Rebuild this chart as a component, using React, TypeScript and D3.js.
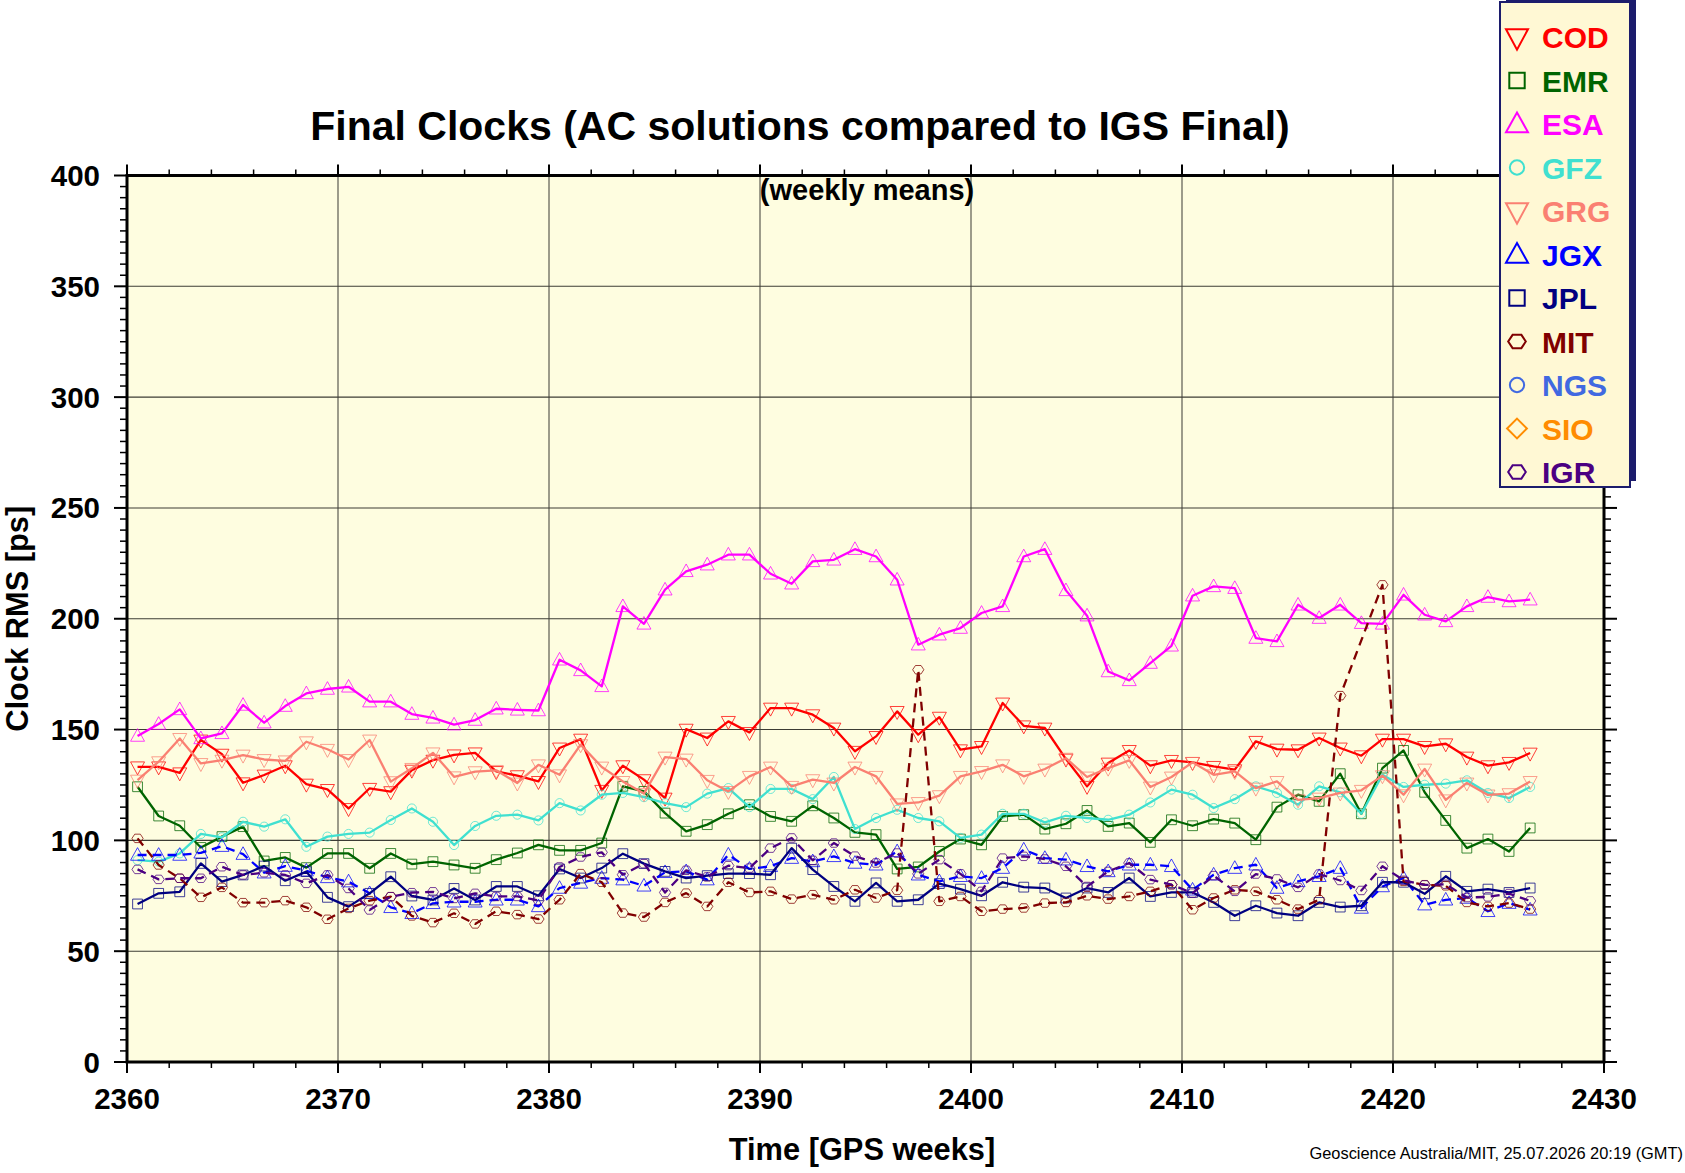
import React, { useEffect } from "react";
import * as d3 from "d3";

// ---------- DATA ----------
const weeks: number[] = d3.range(2360.5, 2427, 1);

const COD = [133.2, 133.2, 130.5, 145.3, 138.9, 126.0, 129.5, 133.7, 125.4, 123.0, 114.4, 123.5, 122.0, 131.7, 136.2, 138.6, 139.5,
  131.1, 129.2, 126.6, 141.7, 145.7, 122.6, 133.7, 127.4, 119.1, 150.2, 146.2, 153.7, 148.7, 159.7, 159.7, 156.7, 150.7, 140.2,
  146.9, 158.2, 147.7, 155.6, 140.9, 142.4, 162.0, 151.7, 150.7, 136.7, 124.4, 134.9, 140.6, 133.7, 136.1, 135.2, 133.4, 131.9,
  144.7, 141.2, 140.9, 146.2, 141.7, 138.2, 145.7, 145.7, 142.4, 143.6, 137.6, 133.7, 135.2, 139.4];
const EMR = [124.2, 111.0, 106.6, 96.8, 101.7, 106.2, 90.7, 92.3, 87.7, 94.1, 94.1, 87.4, 94.1, 89.3, 90.4, 88.9, 87.4,
  91.3, 94.3, 98.0, 95.5, 95.5, 98.8, 124.4, 122.1, 112.3, 104.1, 107.1, 112.0, 116.1, 110.8, 108.6, 115.6, 110.1, 103.6,
  102.6, 87.1, 88.0, 95.0, 100.6, 98.0, 110.8, 111.6, 105.1, 107.5, 113.5, 106.3, 107.8, 99.1, 109.3, 106.6, 109.6, 107.8,
  100.3, 115.0, 120.6, 117.6, 130.1, 112.0, 132.6, 140.6, 121.7, 109.0, 96.5, 100.6, 95.0, 105.6];
const ESA = [147.1, 152.5, 159.1, 146.0, 148.3, 161.1, 153.1, 160.6, 166.3, 168.3, 169.3, 162.6, 162.6, 157.0, 155.3, 152.2, 154.3,
  159.4, 158.9, 158.6, 181.5, 176.7, 169.5, 205.6, 197.7, 213.1, 221.4, 224.4, 228.9, 228.9, 220.3, 215.8, 225.9, 226.6, 231.4,
  228.1, 217.6, 188.3, 192.8, 195.8, 202.6, 205.6, 228.1, 231.4, 212.8, 201.4, 176.2, 172.2, 180.0, 187.8, 210.4, 214.6, 213.8,
  191.3, 189.8, 206.3, 200.3, 206.3, 198.0, 197.7, 210.8, 201.8, 198.8, 205.6, 209.8, 207.8, 208.6];
const GFZ = [91.1, 90.4, 94.1, 102.9, 101.4, 108.4, 106.2, 109.5, 97.1, 101.7, 102.9, 103.5, 109.2, 114.4, 108.4, 97.9, 106.5,
  111.1, 111.6, 109.0, 116.8, 113.5, 120.6, 121.4, 119.5, 116.8, 115.0, 121.1, 123.6, 115.0, 123.2, 123.2, 118.6, 128.6, 105.1,
  110.1, 113.8, 110.1, 108.6, 101.1, 102.6, 112.0, 112.0, 108.1, 111.1, 110.1, 109.3, 111.6, 117.1, 122.9, 120.6, 114.6, 118.6,
  124.4, 121.4, 116.1, 124.4, 121.7, 112.0, 129.6, 124.1, 125.1, 125.6, 127.1, 121.4, 119.1, 124.1];
const GRG = [127.2, 135.5, 146.0, 134.7, 136.2, 138.5, 136.5, 135.9, 144.5, 141.1, 136.5, 145.3, 126.5, 132.5, 139.5, 128.7, 131.0,
  131.6, 125.9, 134.1, 129.6, 143.2, 133.1, 126.6, 121.1, 137.6, 136.7, 127.1, 122.1, 128.9, 133.1, 124.4, 127.4, 125.9, 133.1,
  128.9, 116.5, 117.1, 120.2, 128.9, 131.1, 134.1, 128.9, 132.2, 137.1, 128.6, 132.6, 136.1, 124.1, 128.6, 135.2, 129.6, 131.1,
  123.6, 126.6, 118.3, 119.1, 121.4, 122.6, 129.2, 120.6, 132.2, 118.3, 125.9, 120.5, 121.1, 126.6];
const JGX = [93.4, 93.4, 93.4, 94.4, 97.4, 93.8, 85.4, 88.4, 86.3, 83.3, 81.4, 76.1, 69.8, 67.1, 71.6, 72.3, 72.3,
  73.2, 73.2, 70.2, 78.5, 80.8, 83.0, 82.3, 79.5, 85.6, 86.0, 82.3, 93.5, 87.1, 88.3, 92.0, 90.5, 92.8, 89.8,
  89.0, 95.0, 84.5, 81.5, 83.8, 83.0, 87.5, 95.8, 92.0, 91.3, 88.3, 86.0, 89.0, 89.0, 88.3, 77.7, 84.5, 87.5,
  89.0, 78.5, 81.5, 83.8, 87.5, 69.5, 79.2, 83.0, 71.0, 73.2, 74.0, 68.0, 71.7, 68.7];
const JPL = [71.3, 76.1, 76.8, 89.6, 81.4, 84.4, 88.4, 81.8, 85.9, 74.3, 70.1, 76.1, 83.6, 74.9, 73.1, 78.3, 73.1,
  79.2, 79.2, 75.0, 87.1, 83.0, 87.5, 94.0, 89.5, 86.0, 83.0, 84.1, 85.0, 85.0, 84.5, 96.5, 86.8, 79.2, 72.5,
  80.8, 72.5, 73.2, 80.5, 78.0, 75.0, 81.1, 78.9, 78.5, 74.0, 78.5, 76.5, 83.0, 74.7, 76.5, 76.5, 72.0, 66.0,
  70.5, 67.2, 66.0, 72.0, 69.9, 70.5, 81.1, 81.1, 75.9, 83.8, 77.0, 78.0, 76.5, 78.5];
const MIT: (number | null)[] = [100.9, 88.9, 82.9, 74.3, 78.8, 71.9, 71.9, 72.8, 69.8, 64.4, 69.3, 72.8, 74.6, 65.9, 62.9, 67.1, 62.3,
  68.0, 66.5, 64.5, 73.2, 85.0, 81.1, 67.2, 65.4, 72.0, 76.2, 70.2, 81.1, 76.5, 77.0, 73.5, 75.5, 73.2, 77.7,
  74.0, 77.5, 177.0, 72.5, 74.7, 68.0, 69.0, 69.5, 71.7, 72.0, 75.0, 73.5, 74.7, 77.0, 80.0, 68.7, 74.0, 77.7,
  77.0, 73.2, 69.0, 73.2, 165.3, null, 215.3, 81.5, 80.0, 79.5, 72.0, 70.2, 71.7, 69.0];
const NGS: (number | null)[] = [];
const SIO: (number | null)[] = [];
const IGR = [86.9, 82.4, 82.9, 82.9, 88.1, 84.4, 85.4, 84.4, 80.6, 84.4, 78.3, 68.6, 74.6, 76.4, 76.8, 73.8, 76.1,
  74.7, 74.7, 72.9, 88.0, 92.5, 94.6, 84.5, 89.5, 76.5, 86.5, 83.5, 88.6, 87.5, 96.5, 101.1, 91.0, 98.8, 92.9,
  89.8, 94.3, 84.9, 91.3, 84.9, 77.0, 92.0, 92.8, 91.6, 88.3, 79.2, 86.0, 89.8, 82.3, 80.0, 76.2, 84.1, 77.0,
  84.8, 82.6, 78.8, 84.8, 81.9, 77.4, 88.3, 82.0, 79.9, 80.2, 74.2, 74.5, 76.0, 72.7];

const seriesNames = ["COD", "EMR", "ESA", "GFZ", "GRG", "JGX", "JPL", "MIT", "NGS", "SIO", "IGR"];
const seriesValues: (number | null)[][] = [COD, EMR, ESA, GFZ, GRG, JGX, JPL, MIT, NGS, SIO, IGR];
const seriesColors = ["#ff0000", "#006400", "#ff00ff", "#40e0d0", "#fa8072", "#0000ff", "#000080", "#800000", "#4169e1", "#ff8c00", "#4b0082"];
const seriesMarkers = ["tdown", "square", "tup", "circle", "tdown", "tup", "square", "hex", "circle", "diamond", "hex"];
const seriesDashed = [false, false, false, false, false, true, false, true, false, false, true];

const xTicks = [2360, 2370, 2380, 2390, 2400, 2410, 2420, 2430];
const yTicks = [0, 50, 100, 150, 200, 250, 300, 350, 400];

const TITLE = "Final Clocks (AC solutions compared to IGS Final)";
const SUBTITLE = "(weekly means)";
const XLABEL = "Time [GPS weeks]";
const YLABEL = "Clock RMS [ps]";
const FOOTER = "Geoscience Australia/MIT, 25.07.2026 20:19 (GMT)";

// ---------- LAYOUT ----------
const W = 1685, H = 1173;
const L = 127, R = 1604, T = 175.5, B = 1062;
const FONT = "'Liberation Sans', Arial, Helvetica, sans-serif";

function markerPath(kind: string, s: number): string {
  switch (kind) {
    case "tdown": return `M${-s},${-0.7 * s}L${s},${-0.7 * s}L0,${1.15 * s}Z`;
    case "tup": return `M${-s},${0.75 * s}L${s},${0.75 * s}L0,${-1.05 * s}Z`;
    case "square": { const h = s * 0.7; return `M${-h},${-h}L${h},${-h}L${h},${h}L${-h},${h}Z`; }
    case "circle": { const r = s * 0.65; return `M${r},0A${r},${r} 0 1,1 ${-r},0A${r},${r} 0 1,1 ${r},0Z`; }
    case "diamond": { const r = s * 0.9; return `M0,${-r}L${r},0L0,${r}L${-r},0Z`; }
    case "hex": {
      const r = s * 0.8;
      const pts = d3.range(6).map((i) => {
        const a = (Math.PI / 3) * i;
        return [r * Math.cos(a), r * 0.87 * Math.sin(a)];
      });
      return "M" + pts.map((p) => p.join(",")).join("L") + "Z";
    }
  }
  return "";
}

export default function App() {
  useEffect(() => {
    document.body.style.margin = "0";
  }, []);

  const x = d3.scaleLinear().domain([2360, 2430]).range([L, R]);
  const y = d3.scaleLinear().domain([0, 400]).range([B, T]);

  const xMinor = d3.range(2360, 2431, 2);
  const yMinor = d3.range(0, 401, 5);

  const line = d3.line<[number, number]>().x((d) => x(d[0])).y((d) => y(d[1]));

  return (
    <svg width={W} height={H} style={{ position: "absolute", left: 0, top: 0, display: "block", background: "#fff" }} fontFamily={FONT}>
      <rect x={0} y={0} width={W} height={H} fill="#ffffff" />
      {/* plot background */}
      <rect x={L} y={T} width={R - L} height={B - T} fill="#fefde0" />
      {/* grid */}
      {xTicks.filter((t) => t > 2360 && t < 2430).map((t) => (
        <line key={"gx" + t} x1={x(t)} x2={x(t)} y1={T} y2={B} stroke="#5a5a50" strokeWidth={1.2} />
      ))}
      {yTicks.filter((t) => t > 0 && t < 400).map((t) => (
        <line key={"gy" + t} x1={L} x2={R} y1={y(t)} y2={y(t)} stroke="#3c3c34" strokeWidth={1.1} />
      ))}
      {/* series */}
      {seriesNames.map((name, i) => {
        const vals = seriesValues[i];
        const pts: [number, number][] = [];
        vals.forEach((v, k) => { if (v !== null && v !== undefined) pts.push([weeks[k], v]); });
        if (!pts.length) return null;
        const col = seriesColors[i];
        return (
          <g key={name}>
            <path d={line(pts) || ""} fill="none" stroke={col} strokeWidth={2.3}
              strokeDasharray={seriesDashed[i] ? "9,6" : undefined} strokeLinejoin="round" />
            {pts.map((p, k) => (
              <path key={k} d={markerPath(seriesMarkers[i], 7)} transform={`translate(${x(p[0])},${y(p[1])})`}
                fill="none" stroke={col} strokeWidth={1} strokeOpacity={0.75} />
            ))}
          </g>
        );
      })}
      {/* frame */}
      <rect x={L} y={T} width={R - L} height={B - T} fill="none" stroke="#000" strokeWidth={3} />
      {/* x ticks */}
      {xMinor.map((t) => {
        const major = t % 10 === 0;
        const len = major ? 11 : 6;
        return (
          <g key={"xt" + t}>
            <line x1={x(t)} x2={x(t)} y1={B} y2={B + len} stroke="#000" strokeWidth={major ? 2 : 1.5} />
            <line x1={x(t)} x2={x(t)} y1={T} y2={T - len} stroke="#000" strokeWidth={major ? 2 : 1.5} />
          </g>
        );
      })}
      {/* y ticks */}
      {yMinor.map((t) => {
        const major = t % 50 === 0;
        const len = major ? 13 : 7;
        return (
          <g key={"yt" + t}>
            <line x1={L} x2={L - len} y1={y(t)} y2={y(t)} stroke="#000" strokeWidth={major ? 2 : 1.5} />
            <line x1={R} x2={R + len} y1={y(t)} y2={y(t)} stroke="#000" strokeWidth={major ? 2 : 1.5} />
          </g>
        );
      })}
      {/* tick labels */}
      {xTicks.map((t) => (
        <text key={"xl" + t} x={x(t)} y={1109} textAnchor="middle" fontSize={29.5} fontWeight="bold" fill="#000">{t}</text>
      ))}
      {yTicks.map((t) => (
        <text key={"yl" + t} x={100} y={y(t) + 10.5} textAnchor="end" fontSize={29.5} fontWeight="bold" fill="#000">{t}</text>
      ))}
      {/* titles */}
      <text x={800} y={140} textAnchor="middle" fontSize={41} fontWeight="bold" fill="#000">{TITLE}</text>
      <text x={867} y={200} textAnchor="middle" fontSize={29} fontWeight="bold" fill="#000">{SUBTITLE}</text>
      <text x={862} y={1160} textAnchor="middle" fontSize={30.8} fontWeight="bold" fill="#000">{XLABEL}</text>
      <text transform={`translate(28,${(T + B) / 2}) rotate(-90)`} textAnchor="middle" fontSize={32} fontWeight="bold"
        fill="#000" textLength={226} lengthAdjust="spacingAndGlyphs">{YLABEL}</text>
      <text x={1683} y={1159} textAnchor="end" fontSize={16.4} fill="#000">{FOOTER}</text>
      {/* legend */}
      <rect x={1506} y={-4} width={130} height={485} fill="#1c1c6c" />
      <rect x={1500} y={2} width={130} height={485} fill="#fff8d4" stroke="#1c1c6c" strokeWidth={2} />
      {seriesNames.map((name, i) => {
        const cy = 37 + i * 43.5;
        return (
          <g key={"lg" + name}>
            <path d={markerPath(seriesMarkers[i], 11)} transform={`translate(1517,${cy})`} fill="none" stroke={seriesColors[i]} strokeWidth={2} />
            <text x={1542} y={cy + 11} fontSize={30} fontWeight="bold" fill={seriesColors[i]}>{name}</text>
          </g>
        );
      })}
    </svg>
  );
}
